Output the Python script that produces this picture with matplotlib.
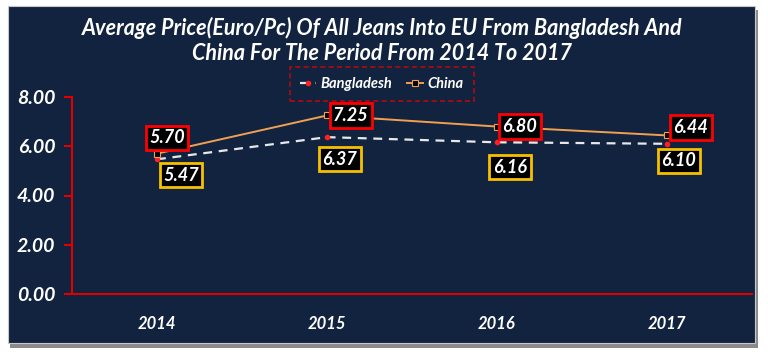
import matplotlib.pyplot as plt
from matplotlib.patches import Rectangle

plt.rcParams['font.family'] = ['Lato', 'DejaVu Sans']

years = ['2014', '2015', '2016', '2017']
bangladesh = [5.47, 6.37, 6.16, 6.10]
china = [5.70, 7.25, 6.80, 6.44]
y_ticks = [0, 2, 4, 6, 8]

# label offsets in pixels (dx, dy) from each point
bd_off = [(24, -16), (13, -22), (13, -25), (12, -17)]
cn_off = [(10, 16), (24, 0), (23, 0), (24, 8)]

navy = '#12233f'

fig = plt.figure(figsize=(7.68, 3.56), dpi=100)
fig.patch.set_facecolor('white')

# shadow + dark panel
fig.patches.append(Rectangle((10 / 768, 8 / 356), 748 / 768, 338 / 356,
                             transform=fig.transFigure, facecolor='#8a8a8a',
                             edgecolor='none', zorder=-3))
fig.patches.append(Rectangle((8 / 768, 13 / 356), 747 / 768, 337 / 356,
                             transform=fig.transFigure, facecolor=navy,
                             edgecolor='#c8c8c8', linewidth=0.8, zorder=-2))

ax = fig.add_axes([72 / 768, 62 / 356, 680 / 768, 197 / 356])
ax.set_facecolor('none')

x = list(range(len(years)))
ax.plot(x, bangladesh, color='#e8e8e8', lw=1.6, ls=(0, (4, 3)),
        marker='o', ms=3, mfc='#ff2020', mec='#ff2020', label='Bangladesh', zorder=3)
ax.plot(x, china, color='#f0a050', lw=1.4, marker='s', ms=5,
        mfc='black', mec='#f0a050', mew=0.8, label='China', zorder=3)

for i in x:
    ax.annotate(f'{china[i]:.2f}', (i, china[i]), xytext=(cn_off[i][0] * 0.72, cn_off[i][1] * 0.72),
                textcoords='offset points', ha='center', va='center', color='white',
                fontsize=13, fontweight='bold', fontstyle='italic',
                bbox=dict(boxstyle='square,pad=0.2', fc='black', ec='#ff0000', lw=2), zorder=5)
    ax.annotate(f'{bangladesh[i]:.2f}', (i, bangladesh[i]), xytext=(bd_off[i][0] * 0.72, bd_off[i][1] * 0.72),
                textcoords='offset points', ha='center', va='center', color='white',
                fontsize=13, fontweight='bold', fontstyle='italic',
                bbox=dict(boxstyle='square,pad=0.2', fc='black', ec='#f5c000', lw=2), zorder=5)

ax.set_xlim(-0.5, 3.5)
ax.set_ylim(0, 8)
ax.set_xticks(x)
ax.set_xticklabels(years)
ax.set_yticks(y_ticks)
ax.set_yticklabels([f'{v:.2f}' for v in y_ticks])
for s in ['top', 'right']:
    ax.spines[s].set_visible(False)
for s in ['left', 'bottom']:
    ax.spines[s].set_color('#e00000')
    ax.spines[s].set_linewidth(1.5)
ax.tick_params(axis='y', colors='#e00000', length=6, width=1.5, labelcolor='white', labelsize=14, pad=6)
ax.tick_params(axis='x', length=0, labelcolor='white', labelsize=12, pad=16)
for t in ax.get_yticklabels() + ax.get_xticklabels():
    t.set_fontweight('bold')
    t.set_fontstyle('italic')

fig.text(382 / 768, 1 - 28 / 356, 'Average Price(Euro/Pc) Of All Jeans Into EU From Bangladesh And',
         ha='center', va='center', color='white', fontsize=15.5, fontweight='bold', fontstyle='italic')
fig.text(382 / 768, 1 - 53 / 356, 'China For The Period From 2014 To 2017',
         ha='center', va='center', color='white', fontsize=15.5, fontweight='bold', fontstyle='italic')

leg = ax.legend(loc='center', bbox_to_anchor=(382 / 768, 1 - 84 / 356), bbox_transform=fig.transFigure,
                ncol=2, frameon=True, fontsize=10.5, handlelength=1.1, columnspacing=1.0,
                borderpad=0.4, handletextpad=0.3)
frame = leg.get_frame()
frame.set_facecolor('none')
frame.set_edgecolor('#e00000')
frame.set_linestyle((0, (3, 2)))
frame.set_linewidth(1.2)
frame.set_boxstyle('square')
for t in leg.get_texts():
    t.set_color('white')
    t.set_fontstyle('italic')
    t.set_fontweight('bold')

fig.savefig('out.png', dpi=100, facecolor=fig.get_facecolor())
